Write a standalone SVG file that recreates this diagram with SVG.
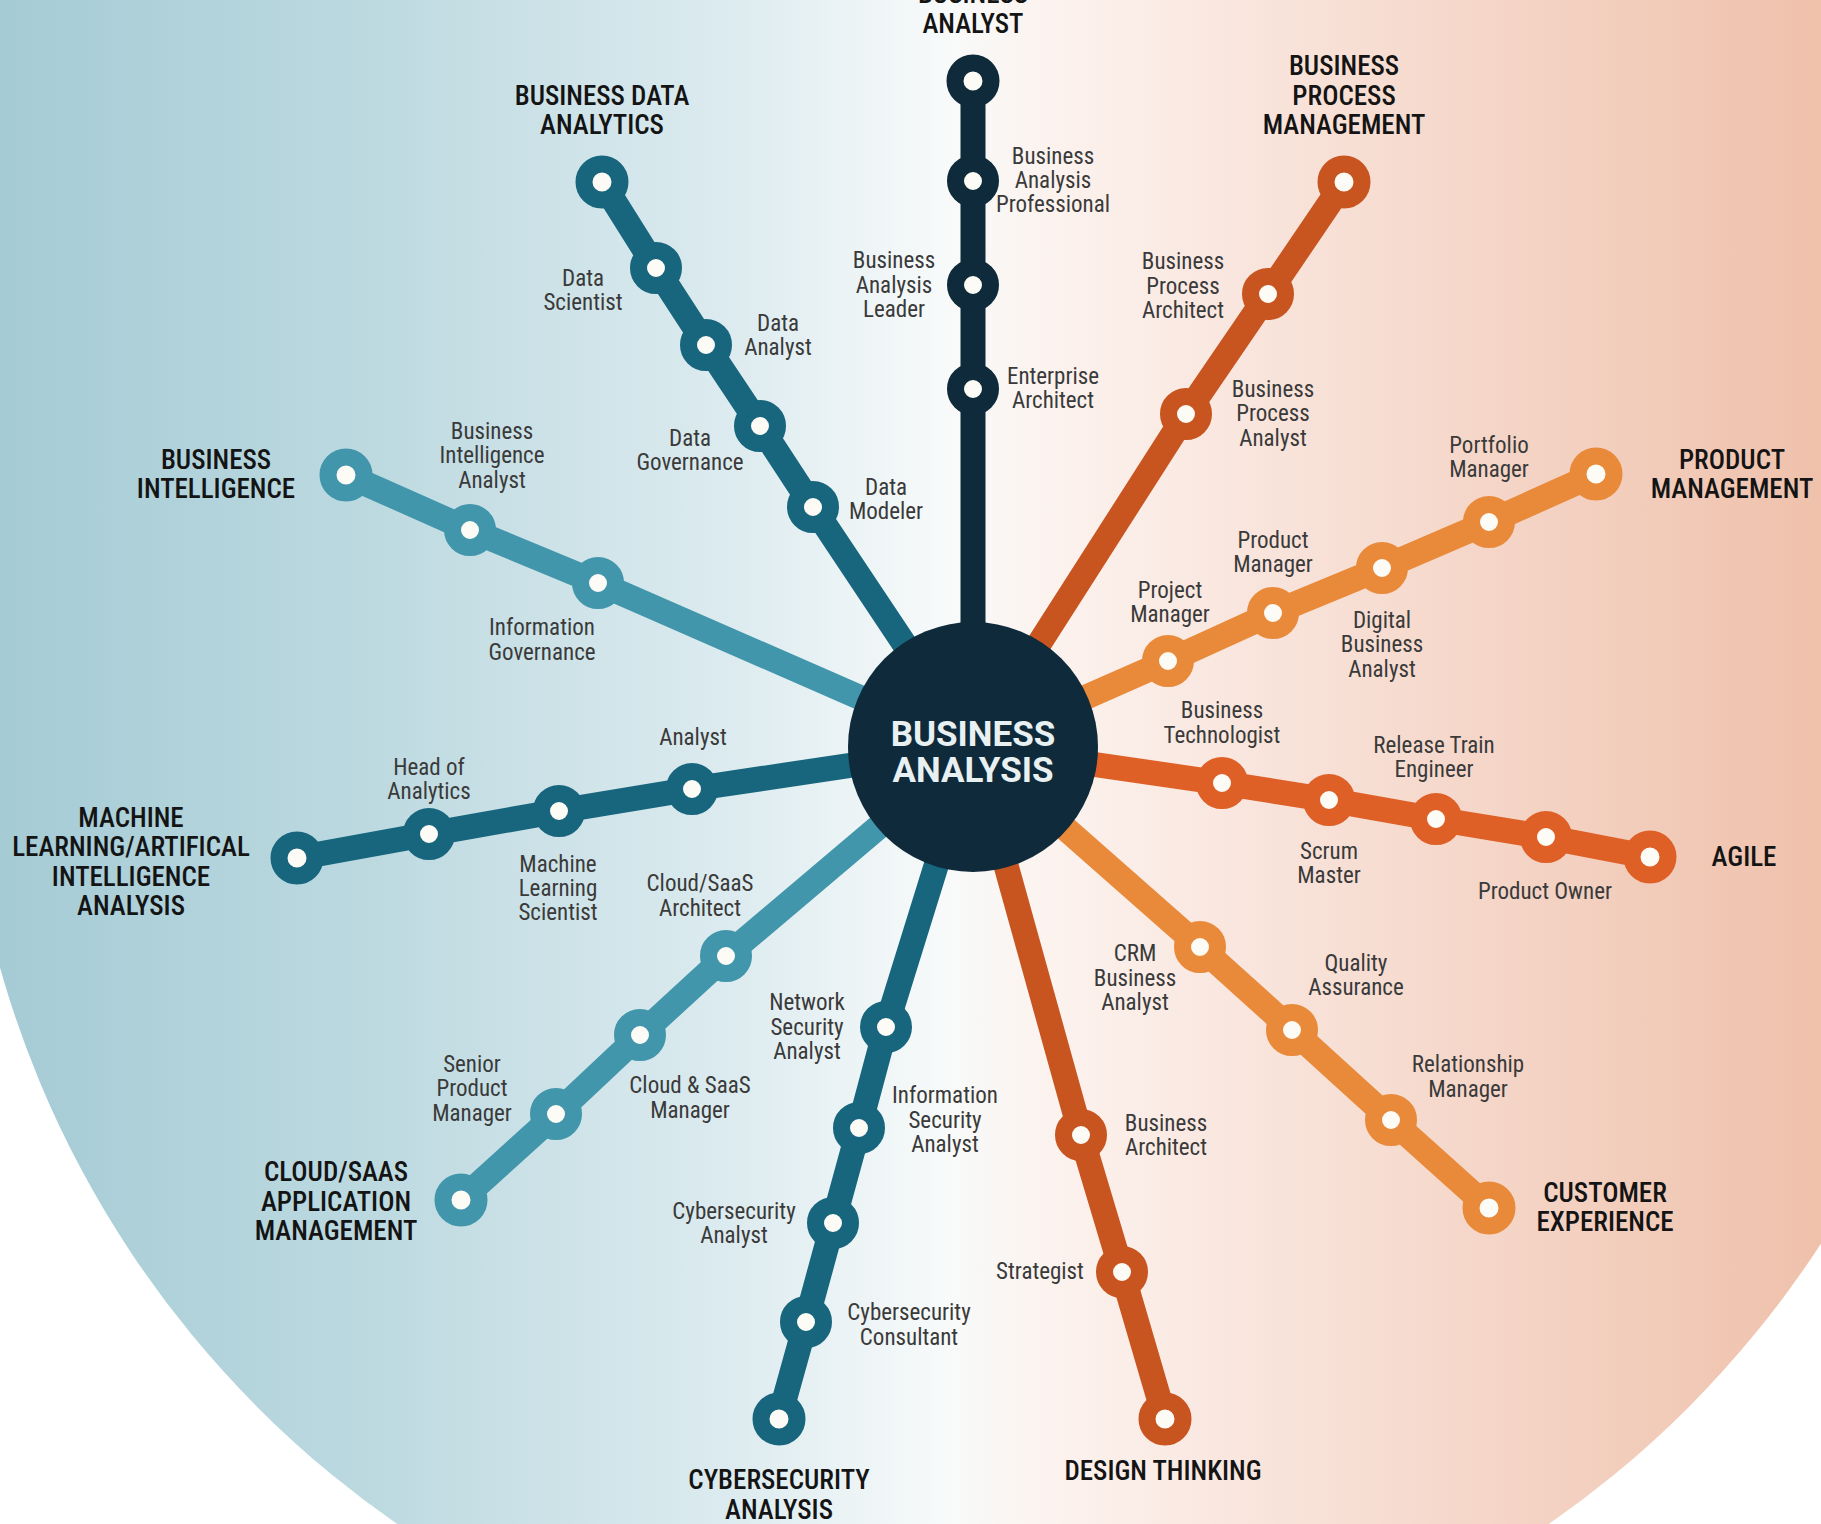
<svg xmlns="http://www.w3.org/2000/svg" width="1821" height="1524" viewBox="0 0 1821 1524">
<defs>
<linearGradient id="bg" gradientUnits="userSpaceOnUse" x1="0" y1="0" x2="1821" y2="0">
<stop offset="0" stop-color="#a5cbd5"/>
<stop offset="0.2" stop-color="#bcd9e0"/>
<stop offset="0.4" stop-color="#dcebef"/>
<stop offset="0.52" stop-color="#f8fafa"/>
<stop offset="0.58" stop-color="#fcf2ee"/>
<stop offset="0.78" stop-color="#f6dace"/>
<stop offset="1" stop-color="#efc1ab"/>
</linearGradient>
<style>
.ln{fill:none;stroke-width:25;stroke-linecap:round;stroke-linejoin:round}
.st{fill:#fdfbf6;stroke-width:17}
.navy{stroke:#0f2a3a}
.teal{stroke:#17667e}
.lteal{stroke:#4196ab}
.red{stroke:#c8551f}
.orng{stroke:#de6027}
.lorng{stroke:#e98a3b}
text{font-family:'Roboto Condensed','DejaVu Sans Condensed','Liberation Sans Narrow',Roboto,sans-serif;text-anchor:middle}
.lbl{font-size:23px;fill:#3a3a3a}
.ttl{font-size:27px;font-weight:500;fill:#141414}
.ctr{font-family:Roboto,'Liberation Sans',sans-serif;font-size:35px;font-weight:bold;fill:#e8f0f2}
</style>
</defs>
<rect width="1821" height="1524" fill="#ffffff"/>
<g id="background">
<rect x="0" y="0" width="1821" height="700" fill="url(#bg)"/>
<circle cx="973" cy="693" r="1011" fill="url(#bg)"/>
</g>

<g id="connectors">
<polyline class="ln navy" points="973,81 973,747"/>
<polyline class="ln teal" points="602,182 656,268 706,345 760,426 813,507 973,747"/>
<polyline class="ln lteal" points="346,475 470,530 598,583 973,747"/>
<polyline class="ln teal" points="297,858 429,834 559,811 692,789 973,747"/>
<polyline class="ln lteal" points="461,1200 556,1114 640,1035 726,956 973,747"/>
<polyline class="ln teal" points="779,1419 806,1322 833,1223 859,1128 886,1027 973,747"/>
<polyline class="ln red" points="1165,1419 1122,1272 1081,1135 973,747"/>
<polyline class="ln lorng" points="1489,1208 1391,1120 1292,1030 1200,947 973,747"/>
<polyline class="ln orng" points="1650,857 1546,837 1436,819 1329,800 1222,783 973,747"/>
<polyline class="ln lorng" points="1596,474 1489,522 1382,568 1273,613 1168,661 973,747"/>
<polyline class="ln red" points="1344,182 1268,294 1186,414 973,747"/>
</g>

<g id="center">
<circle cx="973" cy="747" r="125" fill="#0f2a3a"/>
<text class="ctr"><tspan x="973" y="746">BUSINESS</tspan><tspan x="973" y="782">ANALYSIS</tspan></text>
</g>

<g id="business-analyst">
<circle class="st navy" cx="973" cy="81" r="18"/>
<circle class="st navy" cx="973" cy="181" r="17.5"/>
<circle class="st navy" cx="973" cy="285" r="17.5"/>
<circle class="st navy" cx="973" cy="389" r="17.5"/>
<text class="ttl"><tspan x="973" y="3">BUSINESS</tspan><tspan x="973" y="33">ANALYST</tspan></text>
<text class="lbl"><tspan x="1053" y="164">Business</tspan><tspan x="1053" y="188">Analysis</tspan><tspan x="1053" y="212">Professional</tspan></text>
<text class="lbl"><tspan x="894" y="268">Business</tspan><tspan x="894" y="293">Analysis</tspan><tspan x="894" y="317">Leader</tspan></text>
<text class="lbl"><tspan x="1053" y="384">Enterprise</tspan><tspan x="1053" y="408">Architect</tspan></text>
</g>

<g id="business-data-analytics">
<circle class="st teal" cx="602" cy="182" r="18"/>
<circle class="st teal" cx="656" cy="268" r="17.5"/>
<circle class="st teal" cx="706" cy="345" r="17.5"/>
<circle class="st teal" cx="760" cy="426" r="17.5"/>
<circle class="st teal" cx="813" cy="507" r="17.5"/>
<text class="ttl"><tspan x="602" y="105">BUSINESS DATA</tspan><tspan x="602" y="134">ANALYTICS</tspan></text>
<text class="lbl"><tspan x="583" y="286">Data</tspan><tspan x="583" y="310">Scientist</tspan></text>
<text class="lbl"><tspan x="778" y="331">Data</tspan><tspan x="778" y="355">Analyst</tspan></text>
<text class="lbl"><tspan x="690" y="446">Data</tspan><tspan x="690" y="470">Governance</tspan></text>
<text class="lbl"><tspan x="886" y="495">Data</tspan><tspan x="886" y="519">Modeler</tspan></text>
</g>

<g id="business-intelligence">
<circle class="st lteal" cx="346" cy="475" r="18"/>
<circle class="st lteal" cx="470" cy="530" r="17.5"/>
<circle class="st lteal" cx="598" cy="583" r="17.5"/>
<text class="ttl"><tspan x="216" y="469">BUSINESS</tspan><tspan x="216" y="498">INTELLIGENCE</tspan></text>
<text class="lbl"><tspan x="492" y="439">Business</tspan><tspan x="492" y="463">Intelligence</tspan><tspan x="492" y="488">Analyst</tspan></text>
<text class="lbl"><tspan x="542" y="635">Information</tspan><tspan x="542" y="660">Governance</tspan></text>
</g>

<g id="machine-learning">
<circle class="st teal" cx="297" cy="858" r="18"/>
<circle class="st teal" cx="429" cy="834" r="17.5"/>
<circle class="st teal" cx="559" cy="811" r="17.5"/>
<circle class="st teal" cx="692" cy="789" r="17.5"/>
<text class="ttl"><tspan x="131" y="827">MACHINE</tspan><tspan x="131" y="856">LEARNING/ARTIFICAL</tspan><tspan x="131" y="886">INTELLIGENCE</tspan><tspan x="131" y="915">ANALYSIS</tspan></text>
<text class="lbl"><tspan x="429" y="775">Head of</tspan><tspan x="429" y="799">Analytics</tspan></text>
<text class="lbl"><tspan x="558" y="872">Machine</tspan><tspan x="558" y="896">Learning</tspan><tspan x="558" y="920">Scientist</tspan></text>
<text class="lbl"><tspan x="693" y="745">Analyst</tspan></text>
</g>

<g id="cloud-saas">
<circle class="st lteal" cx="461" cy="1200" r="18"/>
<circle class="st lteal" cx="556" cy="1114" r="17.5"/>
<circle class="st lteal" cx="640" cy="1035" r="17.5"/>
<circle class="st lteal" cx="726" cy="956" r="17.5"/>
<text class="ttl"><tspan x="336" y="1181">CLOUD/SAAS</tspan><tspan x="336" y="1211">APPLICATION</tspan><tspan x="336" y="1240">MANAGEMENT</tspan></text>
<text class="lbl"><tspan x="700" y="891">Cloud/SaaS</tspan><tspan x="700" y="916">Architect</tspan></text>
<text class="lbl"><tspan x="690" y="1093">Cloud &amp; SaaS</tspan><tspan x="690" y="1118">Manager</tspan></text>
<text class="lbl"><tspan x="472" y="1072">Senior</tspan><tspan x="472" y="1096">Product</tspan><tspan x="472" y="1121">Manager</tspan></text>
</g>

<g id="cybersecurity">
<circle class="st teal" cx="779" cy="1419" r="18"/>
<circle class="st teal" cx="806" cy="1322" r="17.5"/>
<circle class="st teal" cx="833" cy="1223" r="17.5"/>
<circle class="st teal" cx="859" cy="1128" r="17.5"/>
<circle class="st teal" cx="886" cy="1027" r="17.5"/>
<text class="ttl"><tspan x="779" y="1489">CYBERSECURITY</tspan><tspan x="779" y="1519">ANALYSIS</tspan></text>
<text class="lbl"><tspan x="807" y="1010">Network</tspan><tspan x="807" y="1035">Security</tspan><tspan x="807" y="1059">Analyst</tspan></text>
<text class="lbl"><tspan x="945" y="1103">Information</tspan><tspan x="945" y="1128">Security</tspan><tspan x="945" y="1152">Analyst</tspan></text>
<text class="lbl"><tspan x="734" y="1219">Cybersecurity</tspan><tspan x="734" y="1243">Analyst</tspan></text>
<text class="lbl"><tspan x="909" y="1320">Cybersecurity</tspan><tspan x="909" y="1345">Consultant</tspan></text>
</g>

<g id="design-thinking">
<circle class="st red" cx="1165" cy="1419" r="18"/>
<circle class="st red" cx="1122" cy="1272" r="17.5"/>
<circle class="st red" cx="1081" cy="1135" r="17.5"/>
<text class="ttl"><tspan x="1163" y="1480">DESIGN THINKING</tspan></text>
<text class="lbl"><tspan x="1166" y="1131">Business</tspan><tspan x="1166" y="1155">Architect</tspan></text>
<text class="lbl"><tspan x="1040" y="1279">Strategist</tspan></text>
</g>

<g id="customer-experience">
<circle class="st lorng" cx="1489" cy="1208" r="18"/>
<circle class="st lorng" cx="1391" cy="1120" r="17.5"/>
<circle class="st lorng" cx="1292" cy="1030" r="17.5"/>
<circle class="st lorng" cx="1200" cy="947" r="17.5"/>
<text class="ttl"><tspan x="1605" y="1202">CUSTOMER</tspan><tspan x="1605" y="1231">EXPERIENCE</tspan></text>
<text class="lbl"><tspan x="1135" y="961">CRM</tspan><tspan x="1135" y="986">Business</tspan><tspan x="1135" y="1010">Analyst</tspan></text>
<text class="lbl"><tspan x="1356" y="971">Quality</tspan><tspan x="1356" y="995">Assurance</tspan></text>
<text class="lbl"><tspan x="1468" y="1072">Relationship</tspan><tspan x="1468" y="1097">Manager</tspan></text>
</g>

<g id="agile">
<circle class="st orng" cx="1650" cy="857" r="18"/>
<circle class="st orng" cx="1546" cy="837" r="17.5"/>
<circle class="st orng" cx="1436" cy="819" r="17.5"/>
<circle class="st orng" cx="1329" cy="800" r="17.5"/>
<circle class="st orng" cx="1222" cy="783" r="17.5"/>
<text class="ttl"><tspan x="1744" y="866">AGILE</tspan></text>
<text class="lbl"><tspan x="1222" y="718">Business</tspan><tspan x="1222" y="743">Technologist</tspan></text>
<text class="lbl"><tspan x="1434" y="753">Release Train</tspan><tspan x="1434" y="777">Engineer</tspan></text>
<text class="lbl"><tspan x="1329" y="859">Scrum</tspan><tspan x="1329" y="883">Master</tspan></text>
<text class="lbl"><tspan x="1545" y="899">Product Owner</tspan></text>
</g>

<g id="product-management">
<circle class="st lorng" cx="1596" cy="474" r="18"/>
<circle class="st lorng" cx="1489" cy="522" r="17.5"/>
<circle class="st lorng" cx="1382" cy="568" r="17.5"/>
<circle class="st lorng" cx="1273" cy="613" r="17.5"/>
<circle class="st lorng" cx="1168" cy="661" r="17.5"/>
<text class="ttl"><tspan x="1732" y="469">PRODUCT</tspan><tspan x="1732" y="498">MANAGEMENT</tspan></text>
<text class="lbl"><tspan x="1489" y="453">Portfolio</tspan><tspan x="1489" y="477">Manager</tspan></text>
<text class="lbl"><tspan x="1273" y="548">Product</tspan><tspan x="1273" y="572">Manager</tspan></text>
<text class="lbl"><tspan x="1170" y="598">Project</tspan><tspan x="1170" y="622">Manager</tspan></text>
<text class="lbl"><tspan x="1382" y="628">Digital</tspan><tspan x="1382" y="652">Business</tspan><tspan x="1382" y="677">Analyst</tspan></text>
</g>

<g id="business-process-management">
<circle class="st red" cx="1344" cy="182" r="18"/>
<circle class="st red" cx="1268" cy="294" r="17.5"/>
<circle class="st red" cx="1186" cy="414" r="17.5"/>
<text class="ttl"><tspan x="1344" y="75">BUSINESS</tspan><tspan x="1344" y="105">PROCESS</tspan><tspan x="1344" y="134">MANAGEMENT</tspan></text>
<text class="lbl"><tspan x="1183" y="269">Business</tspan><tspan x="1183" y="294">Process</tspan><tspan x="1183" y="318">Architect</tspan></text>
<text class="lbl"><tspan x="1273" y="397">Business</tspan><tspan x="1273" y="421">Process</tspan><tspan x="1273" y="446">Analyst</tspan></text>
</g>
</svg>
